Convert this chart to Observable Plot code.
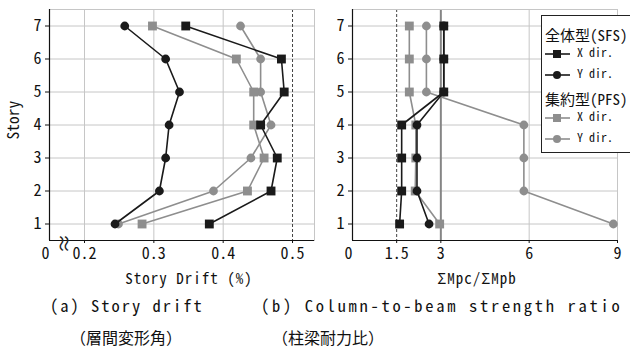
<!DOCTYPE html>
<html>
<head>
<meta charset="utf-8">
<script src="https://cdn.jsdelivr.net/npm/d3@7"></script>
<script src="https://cdn.jsdelivr.net/npm/@observablehq/plot@0.6"></script>
<style>
  html, body { margin: 0; padding: 0; background: #fff; }
  #wrap { position: relative; width: 630px; height: 362px; overflow: hidden; background: #fff;
          font-family: 'Noto Sans Mono CJK JP', 'Noto Sans CJK JP', 'DejaVu Sans Mono', monospace; color: #111; }
  .abs { position: absolute; white-space: nowrap; line-height: 1; }
  #left, #right { position: absolute; top: 0; }
  #left { left: 0; }
  #right { left: 320px; }
  #legend { position: absolute; left: 541px; top: 15px; width: 100px; height: 136px; border: 1px solid #222; background: #fff; }
  #legend .h { position: absolute; left: 3px; font-size: 15px; line-height: 1; transform: translateY(-50%); }
  #legend .r { position: absolute; left: 2px; height: 14px; transform: translateY(-50%); font-size: 12px; line-height: 14px; }
  #legend .r svg { vertical-align: middle; }
</style>
</head>
<body>
<div id="wrap">
  <div id="left"></div>
  <div id="right"></div>
  <div class="abs" id="ylab" style="left:13px; top:120px; font-size:15.5px; transform: translate(-50%,-50%) rotate(-90deg);">Story</div>
  <div class="abs" id="xlabA" style="left:189px; top:277px; font-size:15px; letter-spacing:1px; transform: translate(-50%,-50%);">Story Drift (%)</div>
  <div class="abs" id="xlabB" style="left:477px; top:277px; font-size:15px; letter-spacing:1px; transform: translate(-50%,-50%);">ΣMpc/ΣMpb</div>
  <div class="abs" style="left:50px; top:305px; font-size:16.5px; letter-spacing:2px; transform: translateY(-50%);">(a) Story drift</div>
  <div class="abs" style="left:261px; top:305px; font-size:16.5px; letter-spacing:2.7px; transform: translateY(-50%);">(b) Column-to-beam strength ratio</div>
  <div class="abs" style="left:70px; top:337px; font-size:16px; transform: translateY(-50%);">（層間変形角）</div>
  <div class="abs" style="left:272px; top:337px; font-size:16px; transform: translateY(-50%);">（柱梁耐力比）</div>
  <div id="legend"></div>
</div>
<script>
// ---------- data ----------
const stories = [1, 2, 3, 4, 5, 6, 7];

// (a) story drift (%)
const driftSfsX = [0.380, 0.469, 0.478, 0.454, 0.488, 0.484, 0.346];
const driftSfsY = [0.244, 0.308, 0.317, 0.322, 0.337, 0.317, 0.258];
const driftPfsX = [0.283, 0.435, 0.459, 0.444, 0.444, 0.419, 0.298];
const driftPfsY = [0.249, 0.386, 0.440, 0.469, 0.454, 0.454, 0.425];

// (b) column-to-beam strength ratio
const ratioSfsX = [1.60, 1.67, 1.67, 1.67, 3.10, 3.10, 3.10];
const ratioSfsY = [2.60, 2.19, 2.19, 2.19, 3.10, 3.10, 3.10];
const ratioPfsX = [2.96, 2.13, 2.15, 2.15, 1.93, 1.93, 1.93];
const ratioPfsY = [8.86, 5.82, 5.82, 5.82, 2.51, 2.51, 2.51];

// axes
const driftDomain = [0.1495, 0.5317];        // broken axis: left edge labelled "0"
const driftTicks = [0.2, 0.3, 0.4, 0.5];
const driftTickLabels = ["0.2", "0.3", "0.4", "0.5"];
const driftGrid = [0.2, 0.3, 0.4];
const driftLimit = [0.5];
const driftBreakAt = [0.168];

const ratioDomain = [0, 9];
const ratioTicks = [1.5, 3, 6, 9];
const ratioTickLabels = ["1.5", "3", "6", "9"];
const ratioGrid = [6, 9];
const ratioStrong = [3];
const ratioLimit = [1.5];

const legendGroups = ["全体型(SFS)", "集約型(PFS)"];
const legendItems = ["X dir.", "Y dir."];

// ---------- style ----------
const FONT = "'Noto Sans Mono CJK JP', 'Noto Sans CJK JP', 'DejaVu Sans Mono', monospace";
const BLACK = "#1a1a1a", GRAY = "#8e8e8e", GRID = "#c6c6c6";

const rows = (xs) => stories.map((s, i) => ({story: s, v: xs[i]}));

function seriesMarks(list) {
  const marks = [];
  for (const {vals, color, sym} of list) {
    const d = rows(vals);
    marks.push(Plot.line(d, {x: "v", y: "story", stroke: color, strokeWidth: 1.6}));
    marks.push(Plot.dot(d, {x: "v", y: "story", fill: color, stroke: "none",
      symbol: sym, r: sym === "square" ? 5 : 4.4}));
  }
  return marks;
}

function panel({xDomain, width, marginLeft, marginRight, grid, strong, limit, ticks, labels, series, extra}) {
  return Plot.plot({
    width, height: 270, marginLeft, marginRight, marginTop: 9, marginBottom: 30,
    x: {domain: xDomain},
    y: {domain: [0.5, 7.5]},
    style: {fontFamily: FONT, fontSize: "16px", color: "#111", background: "transparent", overflow: "visible"},
    marks: [
      Plot.ruleY(stories, {stroke: GRID, strokeWidth: 1}),
      Plot.ruleX(grid, {stroke: GRID, strokeWidth: 1}),
      ...(strong ? [Plot.ruleX(strong, {stroke: "#858585", strokeWidth: 2})] : []),
      Plot.ruleX(limit, {stroke: "#444", strokeWidth: 1, strokeDasharray: "3,2"}),
      Plot.frame({stroke: GRID}),
      Plot.ruleX([xDomain[0]], {stroke: "#111", strokeWidth: 1.2}),
      Plot.ruleY([0.5], {stroke: "#111", strokeWidth: 1.2}),
      Plot.axisY({ticks: stories, tickSize: 4, tickPadding: 4, label: null, fontSize: 16,
        tickFormat: (d) => String(d)}),
      Plot.axisX({ticks, tickSize: 3, tickPadding: 4, label: null,
        tickFormat: (d) => labels[ticks.indexOf(d)], fontSize: 16, style: "letter-spacing:1.5px"}),
      Plot.axisX([xDomain[0]], {tickSize: 0, tickPadding: 7, label: null, tickFormat: () => "0", dx: -4, fontSize: 16}),
      ...(extra || []),
      ...seriesMarks(series)
    ]
  });
}

const left = panel({
  xDomain: driftDomain, width: 320, marginLeft: 49, marginRight: 6,
  grid: driftGrid, limit: driftLimit, ticks: driftTicks, labels: driftTickLabels,
  extra: [Plot.text(driftBreakAt, {x: (d) => d, y: 0.5, text: () => "≈", rotate: 90, fontSize: 20, dy: 3, fill: "#222"})],
  series: [
    {vals: driftPfsY, color: GRAY, sym: "circle"},
    {vals: driftPfsX, color: GRAY, sym: "square"},
    {vals: driftSfsY, color: BLACK, sym: "circle"},
    {vals: driftSfsX, color: BLACK, sym: "square"}
  ]
});

const right = panel({
  xDomain: ratioDomain, width: 310, marginLeft: 32, marginRight: 13,
  grid: ratioGrid, strong: ratioStrong, limit: ratioLimit, ticks: ratioTicks, labels: ratioTickLabels,
  series: [
    {vals: ratioPfsY, color: GRAY, sym: "circle"},
    {vals: ratioPfsX, color: GRAY, sym: "square"},
    {vals: ratioSfsY, color: BLACK, sym: "circle"},
    {vals: ratioSfsX, color: BLACK, sym: "square"}
  ]
});

document.getElementById("left").appendChild(left);
document.getElementById("right").appendChild(right);

// ---------- legend ----------
function sym(color, shape) {
  const m = shape === "square"
    ? `<rect x="9" y="3" width="8" height="8" fill="${color}"/>`
    : `<circle cx="13" cy="7" r="4" fill="${color}"/>`;
  return `<svg width="27" height="14"><line x1="1" y1="7" x2="26" y2="7" stroke="${color}" stroke-width="1.6"/>${m}</svg>`;
}
const lg = document.getElementById("legend");
const colors = [BLACK, GRAY];
const shapes = ["square", "circle"];
let html = "";
legendGroups.forEach((g, gi) => {
  const base = gi * 64;
  html += `<div class="h" style="top:${18 + base}px">${g}</div>`;
  legendItems.forEach((it, ii) => {
    html += `<div class="r" style="top:${36 + base + ii * 21}px">${sym(colors[gi], shapes[ii])} ${it}</div>`;
  });
});
lg.innerHTML = html;
</script>
</body>
</html>
